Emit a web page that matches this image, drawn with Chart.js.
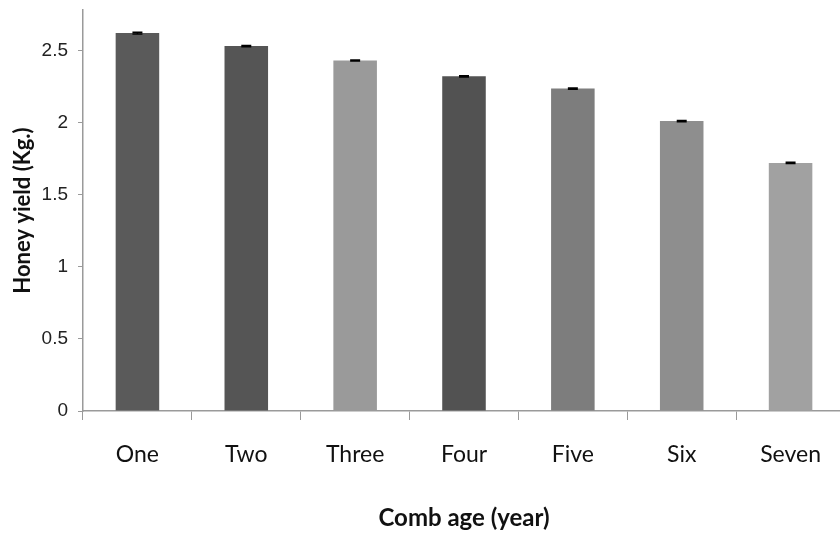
<!DOCTYPE html>
<html>
<head>
<meta charset="utf-8">
<script src="https://cdn.jsdelivr.net/npm/chart.js@4.4.1/dist/chart.umd.min.js"></script>
<style>
    html, body { margin: 0; padding: 0; background: #fff; overflow: hidden; }
    #wrap { width: 860px; height: 533px; }
</style>
</head>
<body>
<div id="wrap"><canvas id="chart" width="860" height="533"></canvas></div>
<script>
// Datos
const combAges = ['One', 'Two', 'Three', 'Four', 'Five', 'Six', 'Seven'];
const honeyYield = [2.62, 2.53, 2.43, 2.32, 2.235, 2.01, 1.72];
const yieldError = [0.006, 0.004, 0.004, 0.004, 0.004, 0.004, 0.004];
const barColors = ['#5a5a5a', '#555555', '#9a9a9a', '#525252', '#7d7d7d', '#8e8e8e', '#a1a1a1'];
const yTicks = [0, 0.5, 1, 1.5, 2, 2.5];

// Pequeñas barras de error negras encima de cada barra
const errorBars = {
    id: 'errorBars',
    afterDatasetsDraw(chart) {
        const ctx = chart.ctx;
        const yScale = chart.scales.y;
        const meta = chart.getDatasetMeta(0);
        ctx.save();
        ctx.strokeStyle = '#000';
        ctx.lineWidth = 1.5;
        meta.data.forEach((bar, i) => {
            const hi = yScale.getPixelForValue(honeyYield[i] + yieldError[i]);
            const lo = yScale.getPixelForValue(honeyYield[i] - yieldError[i]);
            ctx.beginPath();
            ctx.moveTo(bar.x, hi); ctx.lineTo(bar.x, lo);
            ctx.moveTo(bar.x - 5, hi); ctx.lineTo(bar.x + 5, hi);
            ctx.moveTo(bar.x - 5, lo); ctx.lineTo(bar.x + 5, lo);
            ctx.stroke();
        });
        ctx.restore();
    }
};

const axisFont = "'Liberation Sans Narrow', 'Liberation Sans', sans-serif";
const labelFont = "Lato, 'Open Sans', sans-serif";

new Chart(document.getElementById('chart').getContext('2d'), {
    type: 'bar',
    data: {
        labels: combAges,
        datasets: [{
            data: honeyYield,
            backgroundColor: barColors,
            borderWidth: 0,
            categoryPercentage: 1,
            barPercentage: 0.4
        }]
    },
    options: {
        responsive: false,
        animation: false,
        layout: { padding: { top: 10, right: 15, bottom: 0, left: 0 } },
        plugins: {
            legend: { display: false },
            tooltip: { enabled: false }
        },
        scales: {
            x: {
                grid: {
                    offset: true,
                    drawOnChartArea: false,
                    drawTicks: true,
                    tickLength: 9,
                    color: '#9a9a9a'
                },
                border: { display: true, color: '#9a9a9a', width: 1.5 },
                ticks: {
                    color: '#111',
                    padding: 21,
                    maxRotation: 0,
                    font: { family: labelFont, size: 23 }
                },
                title: {
                    display: true,
                    text: 'Comb age (year)',
                    color: '#111',
                    padding: { top: 0, bottom: 0 },
                    font: { family: labelFont, size: 24, weight: 'bold' }
                },
                afterFit(scale) {
                    scale.height = 122;
                    scale.paddingLeft = 0;
                    scale.paddingRight = 0;
                }
            },
            y: {
                min: 0,
                max: 2.78,
                grid: {
                    drawOnChartArea: false,
                    drawTicks: true,
                    tickLength: 5,
                    color: '#9a9a9a'
                },
                border: { display: true, color: '#9a9a9a', width: 1.5 },
                ticks: {
                    color: '#222',
                    padding: 10,
                    font: { family: axisFont, size: 19 },
                    callback: value => String(value)
                },
                afterBuildTicks(scale) {
                    scale.ticks = yTicks.map(v => ({ value: v }));
                },
                title: {
                    display: true,
                    text: 'Honey yield (Kg.)',
                    color: '#111',
                    padding: { top: 10, bottom: 0 },
                    font: { family: labelFont, size: 22, weight: 'bold' }
                },
                afterFit(scale) {
                    scale.width = 83;
                    scale.paddingTop = 0;
                    scale.paddingBottom = 0;
                }
            }
        }
    },
    plugins: [errorBars]
});
</script>
</body>
</html>
